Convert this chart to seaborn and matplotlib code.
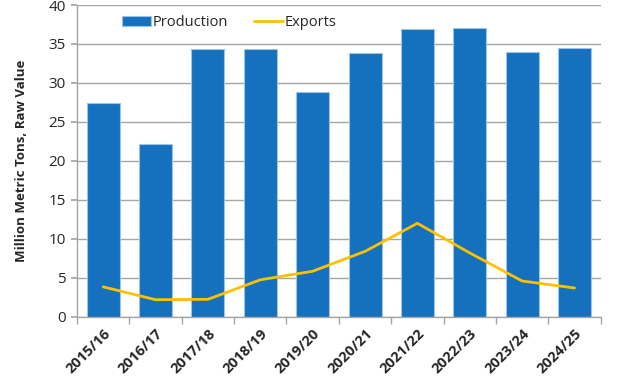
import pandas as pd
import seaborn as sns
import matplotlib.pyplot as plt
import numpy as np

# chart data
years = ['2015/16', '2016/17', '2017/18', '2018/19', '2019/20',
         '2020/21', '2021/22', '2022/23', '2023/24', '2024/25']
production = [27.4, 22.2, 34.3, 34.3, 28.9, 33.8, 36.9, 37.0, 34.0, 34.5]
exports = [3.85, 2.2, 2.25, 4.75, 5.85, 8.4, 12.0, 8.2, 4.6, 3.7]

df = pd.DataFrame({'Year': years, 'Production': production, 'Exports': exports})

sns.set_theme(style='white')
plt.rcParams['font.family'] = ['Open Sans', 'DejaVu Sans']

fig = plt.figure(figsize=(6.29, 3.85), dpi=100)
ax = fig.add_axes([0.1224, 0.177, 0.8326, 0.810])

sns.barplot(data=df, x='Year', y='Production', color='#1570BE', saturation=1,
            width=0.63, edgecolor='#9DC3E6', linewidth=0.8, ax=ax,
            label='Production', zorder=2)
sns.lineplot(data=df, x='Year', y='Exports', color='#FFC000', linewidth=2,
             ax=ax, label='Exports', zorder=3, sort=False)

ax.set_ylim(0, 40)
ax.set_xlim(-0.5, len(years) - 0.5)
ax.set_yticks(np.arange(0, 41, 5))
ax.yaxis.grid(True, color='#A6A6A6', linewidth=1, zorder=0)
ax.set_axisbelow(True)

for s in ['top', 'right']:
    ax.spines[s].set_visible(False)
for s in ['left', 'bottom']:
    ax.spines[s].set_color('#A6A6A6')
    ax.spines[s].set_linewidth(1)

ax.tick_params(axis='y', which='major', length=4, color='#A6A6A6',
               labelsize=11, pad=4, left=True)
ax.set_xticks(np.arange(len(years)))
ax.set_xticklabels(years, rotation=45, ha='right', rotation_mode='anchor',
                   fontsize=10.5, fontweight='bold')
ax.tick_params(axis='x', which='major', length=0, pad=7)
ax.set_xticks(np.arange(-0.5, len(years)), minor=True)
ax.tick_params(axis='x', which='minor', length=5, color='#A6A6A6',
               bottom=True, direction='out')

ax.set_xlabel('')
ax.set_ylabel('Million Metric Tons, Raw Value', fontsize=9.5,
              fontweight='bold', labelpad=15)

handles, labels = ax.get_legend_handles_labels()
order = [labels.index('Production'), labels.index('Exports')]
ax.legend([handles[i] for i in order], [labels[i] for i in order],
          loc='upper left', bbox_to_anchor=(0.06, 1.01), ncol=2, frameon=False,
          fontsize=10.5, handlelength=2.0, handletextpad=0.1, columnspacing=1.8)

fig.savefig('out.png', dpi=100)
